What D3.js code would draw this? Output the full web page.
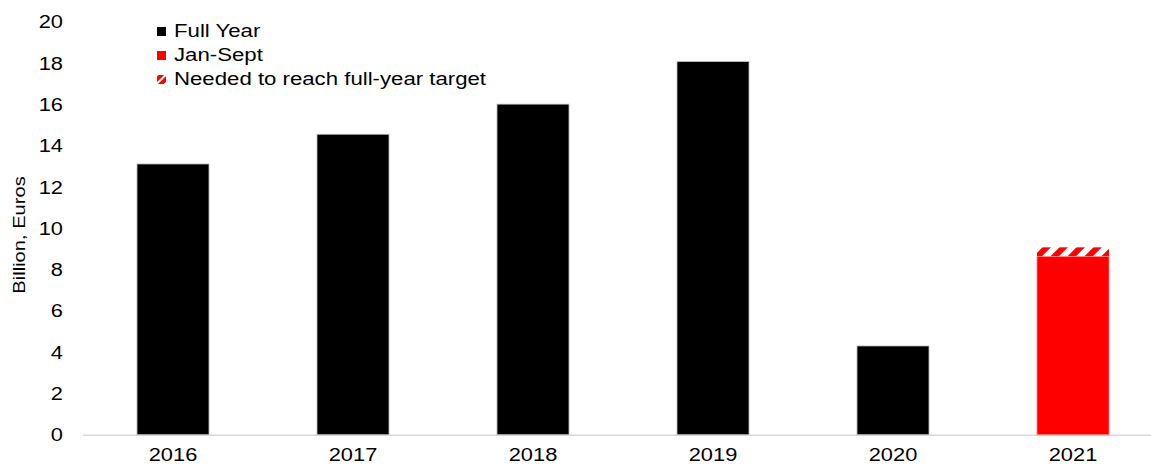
<!DOCTYPE html>
<html>
<head>
<meta charset="utf-8">
<script src="https://cdn.jsdelivr.net/npm/d3@7"></script>
<style>
  html, body { margin: 0; padding: 0; background: #fff; }
  svg { display: block; }
  text { font-family: "Liberation Sans", Arial, sans-serif; fill: #000; }
</style>
</head>
<body>
<svg id="chart" width="1151" height="465"></svg>
<script>
// Annual amounts, billion euros
const years = ["2016", "2017", "2018", "2019", "2020", "2021"];
const fullYear = [13.12, 14.56, 16.02, 18.08, 4.30, null];
const janSept = [null, null, null, null, null, 8.63];
const fullYearTarget = [null, null, null, null, null, 9.08];
const yTicks = [0, 2, 4, 6, 8, 10, 12, 14, 16, 18, 20];
const legendLabels = ["Full Year", "Jan-Sept", "Needed to reach full-year target"];

const W = 1151, H = 465;
const svg = d3.select("#chart");
const sx = 1.18;      // horizontal stretch of the lettering
const fontSize = 18.5;

const margin = { left: 83, right: -12, top: 22, bottom: 30 };
const baseY = 434.7;

const x = d3.scaleBand()
  .domain(years)
  .range([margin.left, W - margin.right])
  .paddingInner(0.6)
  .paddingOuter(0.3);

const y = d3.scaleLinear()
  .domain([0, 20])
  .range([baseY, margin.top]);

// hatch pattern for the remaining amount
const defs = svg.append("defs");
const pat = defs.append("pattern")
  .attr("id", "hatch")
  .attr("patternUnits", "userSpaceOnUse")
  .attr("width", 12).attr("height", 12)
  .attr("patternTransform", "rotate(45)");
pat.append("rect").attr("width", 12).attr("height", 12).attr("fill", "#fff");
pat.append("rect").attr("width", 6).attr("height", 12).attr("fill", "#ff0000");

const legPat = defs.append("pattern")
  .attr("id", "hatchSmall")
  .attr("patternUnits", "userSpaceOnUse")
  .attr("width", 6).attr("height", 6)
  .attr("patternTransform", "rotate(45)");
legPat.append("rect").attr("width", 6).attr("height", 6).attr("fill", "#fff");
legPat.append("rect").attr("width", 4).attr("height", 6).attr("fill", "#ff0000");

// baseline
svg.append("line")
  .attr("x1", margin.left).attr("x2", W)
  .attr("y1", baseY + 0.5).attr("y2", baseY + 0.5)
  .attr("stroke", "#d9d9d9").attr("stroke-width", 1.5);

// y tick labels
svg.append("g").selectAll("g.tick").data(yTicks).join("g")
  .attr("class", "tick")
  .attr("transform", d => `translate(63,${y(d)}) scale(${sx},1)`)
  .append("text")
  .attr("text-anchor", "end")
  .attr("dy", "0.35em")
  .attr("font-size", fontSize)
  .text(d => d);

// y axis title
svg.append("text")
  .attr("transform", "translate(25,235) rotate(-90) scale(1.22,1)")
  .attr("text-anchor", "middle")
  .attr("font-size", 16.5)
  .text("Billion, Euros");

// x tick labels
svg.append("g").selectAll("g").data(years).join("g")
  .attr("transform", d => `translate(${x(d) + x.bandwidth() / 2},461) scale(${sx},1)`)
  .append("text")
  .attr("text-anchor", "middle")
  .attr("font-size", fontSize)
  .text(d => d);

// full-year bars
svg.append("g").selectAll("rect")
  .data(years.map((yr, i) => ({ yr, v: fullYear[i] })).filter(d => d.v != null))
  .join("rect")
  .attr("x", d => x(d.yr))
  .attr("width", x.bandwidth())
  .attr("y", d => y(d.v))
  .attr("height", d => y(0) - y(d.v))
  .attr("fill", "#000")
  .attr("stroke", "#bfbfbf").attr("stroke-width", 0.8);

// target remainder (hatched)
svg.append("g").selectAll("rect")
  .data(years.map((yr, i) => ({ yr, lo: janSept[i], hi: fullYearTarget[i] })).filter(d => d.hi != null))
  .join("rect")
  .attr("x", d => x(d.yr))
  .attr("width", x.bandwidth())
  .attr("y", d => y(d.hi))
  .attr("height", d => y(d.lo) - y(d.hi))
  .attr("fill", "url(#hatch)");

// year-to-date bars
svg.append("g").selectAll("rect")
  .data(years.map((yr, i) => ({ yr, v: janSept[i] })).filter(d => d.v != null))
  .join("rect")
  .attr("x", d => x(d.yr))
  .attr("width", x.bandwidth())
  .attr("y", d => y(d.v))
  .attr("height", d => y(0) - y(d.v))
  .attr("fill", "#ff0000")
  .attr("stroke", "#ff8080").attr("stroke-width", 0.8);

// legend
const legFills = ["#000", "#ff0000", "url(#hatchSmall)"];
const leg = svg.append("g").selectAll("g").data(legendLabels).join("g")
  .attr("transform", (d, i) => `translate(157,${37 + i * 24})`);
leg.append("rect")
  .attr("x", 0).attr("y", -10)
  .attr("width", 9).attr("height", 9)
  .attr("fill", (d, i) => legFills[i]);
leg.append("g")
  .attr("transform", "translate(17,0) scale(1.2,1)")
  .append("text")
  .attr("font-size", fontSize)
  .text(d => d);
</script>
</body>
</html>
